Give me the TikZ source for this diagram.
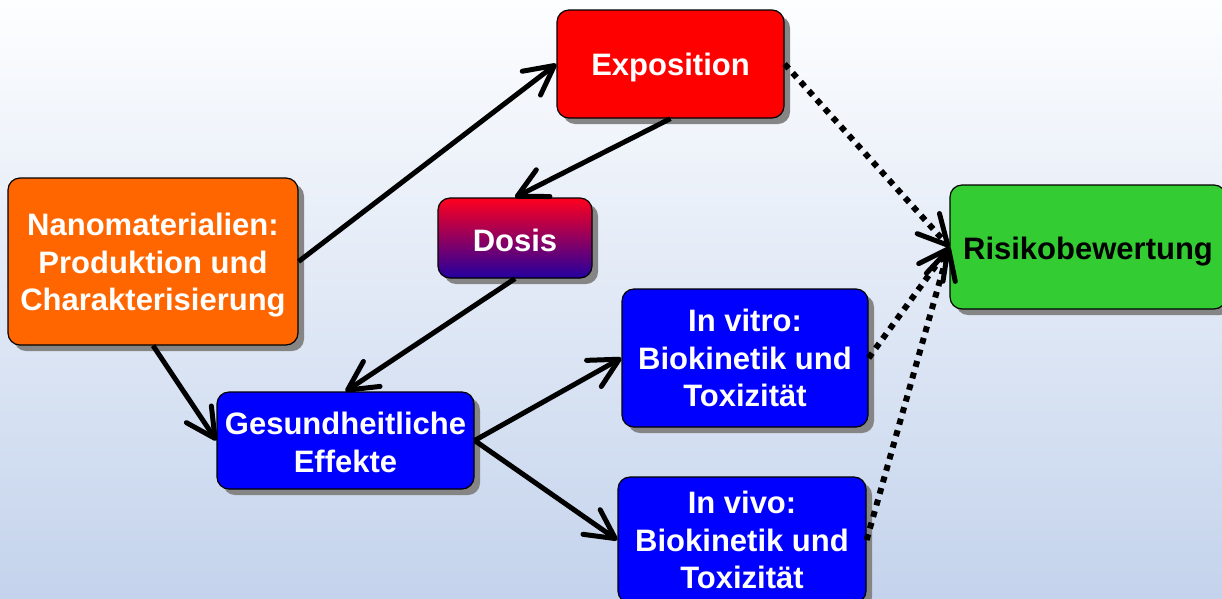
\documentclass[tikz,border=0pt]{standalone}
\usepackage{fontspec}
\setmainfont{Liberation Sans}
\usetikzlibrary{arrows.meta,shadows,calc}
\definecolor{bgtop}{RGB}{253,254,255}
\definecolor{bgbot}{RGB}{196,211,236}
\definecolor{cred}{RGB}{255,0,0}
\definecolor{corange}{RGB}{255,102,0}
\definecolor{cblue}{RGB}{0,0,255}
\definecolor{cgreen}{RGB}{51,204,51}
\definecolor{dtop}{RGB}{255,0,30}
\definecolor{dbot}{RGB}{35,0,160}
\newcommand{\topstrut}[1]{\rule{0pt}{#1}}
\tikzset{
  box/.style={draw=black, line width=1.2pt, rounded corners=12pt, align=center,
    text=white, font=\bfseries\fontsize{31}{37.5}\selectfont, inner sep=0pt,
    drop shadow={shadow xshift=6pt, shadow yshift=-6pt, fill=black!48, opacity=1}},
  solidarrow/.style={line width=5pt, -{Straight Barb[length=29pt,width=30pt,round]}},
  dotarrow/.style={line width=6pt, dash pattern=on 6pt off 6pt, -{Straight Barb[length=29pt,width=30pt,round,line width=5pt]}}
}
\begin{document}
\begin{tikzpicture}[x=1pt,y=-1pt]
\useasboundingbox (0,0) rectangle (1222,598);
\shade[top color=bgtop, bottom color=bgbot] (0,0) rectangle (1222,598);

\node[box, fill=cred, minimum width=227pt, minimum height=108pt] (expo) at (670.5,64) {\topstrut{30pt}Exposition};
\node[box, fill=corange, minimum width=290pt, minimum height=167pt] (nano) at (153,261.5) {\topstrut{30pt}Nanomaterialien:\\Produktion und\\Charakterisierung};
\node[box, top color=dtop, bottom color=dbot, minimum width=154pt, minimum height=80pt] (dosis) at (515,238) {\topstrut{27pt}Dosis};
\node[box, fill=cgreen, text=black, minimum width=276pt, minimum height=124pt] (risk) at (1088,247) {\topstrut{31pt}Risikobewertung};
\node[box, fill=cblue, minimum width=246pt, minimum height=138pt] (vitro) at (745,358) {In vitro:\\Biokinetik und\\Toxizität};
\node[box, fill=cblue, minimum width=257pt, minimum height=97pt] (gesund) at (345.5,440.5) {\topstrut{26pt}Gesundheitliche\\Effekte};
\node[box, fill=cblue, minimum width=248pt, minimum height=126pt] (vivo) at (742,540) {In vivo:\\Biokinetik und\\Toxizität};

\draw[solidarrow] (nano.east) -- (expo.west);
\draw[solidarrow] (expo.south) -- (dosis.north);
\draw[solidarrow] (dosis.south) -- (gesund.north);
\draw[solidarrow] (nano.south) -- (gesund.west);
\draw[solidarrow] (gesund.east) -- (vitro.west);
\draw[solidarrow] (gesund.east) -- (vivo.west);

\draw[dotarrow] (expo.east) -- (risk.west);
\draw[dotarrow] (vitro.east) -- (risk.west);
\draw[dotarrow] (vivo.east) -- (risk.west);
\end{tikzpicture}
\end{document}
